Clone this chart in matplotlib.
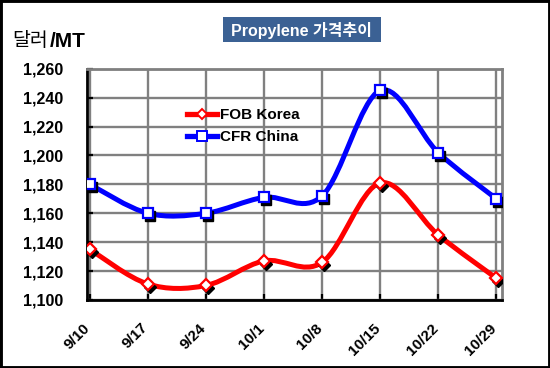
import matplotlib
matplotlib.use("Agg")
import matplotlib.pyplot as plt
from matplotlib.path import Path
from matplotlib.patches import PathPatch, Rectangle
from matplotlib.transforms import offset_copy, ScaledTranslation

plt.rcParams['font.family'] = ['Liberation Sans', 'Noto Sans CJK KR', 'DejaVu Sans']

# data
dates = ['9/10', '9/17', '9/24', '10/1', '10/8', '10/15', '10/22', '10/29']
fob_korea = [1135, 1111, 1110, 1127, 1126, 1181, 1145, 1115]
cfr_china = [1180, 1160, 1160, 1171, 1172, 1245, 1202, 1170]
yticks = [1100, 1120, 1140, 1160, 1180, 1200, 1220, 1240, 1260]


def smooth_path(xs, ys):
    # Excel-like smoothed line (Catmull-Rom as cubic Bezier)
    n = len(xs)
    verts = [(xs[0], ys[0])]
    codes = [Path.MOVETO]
    for i in range(n - 1):
        a = max(i - 1, 0)
        b = min(i + 2, n - 1)
        c1 = (xs[i] + (xs[i + 1] - xs[a]) / 6, ys[i] + (ys[i + 1] - ys[a]) / 6)
        c2 = (xs[i + 1] - (xs[b] - xs[i]) / 6, ys[i + 1] - (ys[b] - ys[i]) / 6)
        verts += [c1, c2, (xs[i + 1], ys[i + 1])]
        codes += [Path.CURVE4] * 3
    return Path(verts, codes)


fig = plt.figure(figsize=(5.5, 3.68), dpi=100)
ax = fig.add_axes([0.158, 0.185, 0.755, 0.628])

x = list(range(len(dates)))
shadow = offset_copy(ax.transData, fig=fig, x=2, y=-3, units='dots')

series = [(fob_korea, 'red', 'D', 6.5, 'FOB Korea'),
          (cfr_china, 'blue', 's', 7.5, 'CFR China')]
for vals, col, mk, ms, name in series:
    ax.add_patch(PathPatch(smooth_path(x, vals), fill=False, ec=col, lw=3.6,
                           capstyle='round', joinstyle='round', zorder=3))
    ax.plot(x, vals, ls='none', marker=mk, ms=ms, mfc='black', mec='black',
            transform=shadow, zorder=4)
    ax.plot(x, vals, ls='none', marker=mk, ms=ms, mfc='white', mec=col,
            mew=1.6, zorder=5)
    # legend proxy
    ax.plot([], [], color=col, lw=3.8, marker=mk, ms=ms - 1, mfc='white',
            mec=col, mew=1.4, label=name)

ax.set_xlim(-0.05, 7.1)
ax.set_ylim(1100, 1260)
ax.set_yticks(yticks)
ax.set_yticklabels([f'{v:,}' for v in yticks])
ax.set_xticks(x)
ax.set_xticklabels(dates, rotation=45, ha='right', va='top',
                   rotation_mode='anchor')

ax.grid(True, color='#808080', lw=1.7)
ax.set_axisbelow(True)
ax.tick_params(axis='y', direction='in', length=4, width=1.6, pad=17,
               labelsize=11.5)
ax.tick_params(axis='x', direction='in', length=4, width=1.6, pad=15,
               labelsize=11)
for lab in ax.get_yticklabels():
    lab.set_fontweight('bold')
shift = ScaledTranslation(-5 / 72, 0, fig.dpi_scale_trans)
for lab in ax.get_xticklabels():
    lab.set_fontweight('bold')
    lab.set_transform(lab.get_transform() + shift)

for s in ['left', 'bottom']:
    ax.spines[s].set_color('black')
    ax.spines[s].set_linewidth(2)
for s in ['top', 'right']:
    ax.spines[s].set_color('#808080')
    ax.spines[s].set_linewidth(2)

leg = ax.legend(loc='upper left', bbox_to_anchor=(0.215, 0.875), frameon=False,
                handlelength=2.0, handletextpad=0.15, labelspacing=0.5,
                borderpad=0.2, prop={'weight': 'bold', 'size': 11})

# title box
fig.add_artist(Rectangle((0.4055, 0.886), 0.287, 0.068,
                         transform=fig.transFigure, fc='#3B6194', ec='none'))
fig.text(0.549, 0.918, 'Propylene 가격추이', color='white', fontsize=11.5,
         fontweight='bold', ha='center', va='center')

# unit label
fig.text(0.022, 0.888, '달러', fontsize=14, ha='left', va='center')
fig.text(0.09, 0.888, '/MT', fontsize=15, fontweight='bold', ha='left',
         va='center')

fig.add_artist(Rectangle((0, 0), 1, 1, transform=fig.transFigure, fill=False,
                         ec='black', lw=3.5))

fig.savefig('out.png', dpi=100)
